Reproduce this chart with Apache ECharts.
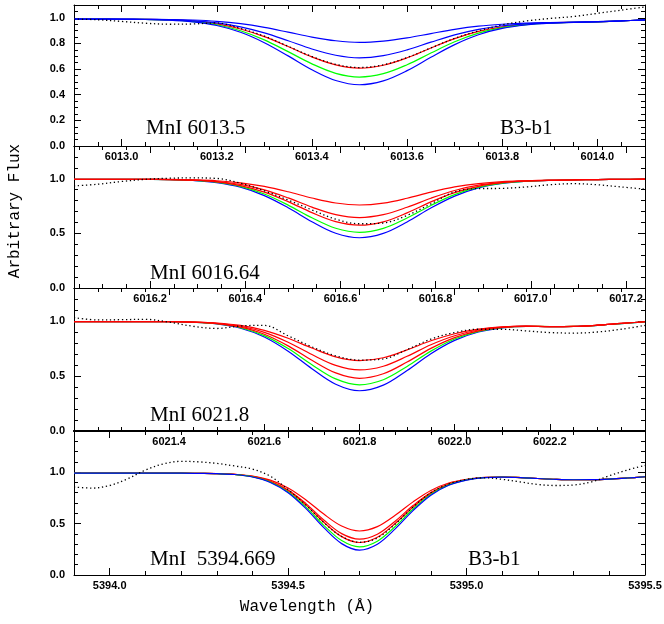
<!DOCTYPE html>
<html><head><meta charset="utf-8">
<script src="https://cdn.jsdelivr.net/npm/echarts@6/dist/echarts.min.js"></script>
<style>html,body{margin:0;padding:0;background:#fff}#c{width:664px;height:624px}</style>
</head><body><div id="c"></div>
<script>
// ---------- Panel 1 : MnI 6013.5 ----------
const wl1 = [6012.90,6012.95,6013.00,6013.05,6013.10,6013.15,6013.20,6013.25,6013.30,6013.35,6013.40,6013.45,6013.50,6013.55,6013.60,6013.65,6013.70,6013.75,6013.80,6013.85,6013.90,6013.95,6014.00,6014.05,6014.10];
const p1BlueA = [.990,.990,.990,.989,.987,.983,.973,.954,.925,.888,.850,.821,.808,.818,.843,.877,.910,.935,.950,.959,.963,.966,.970,.976,.984];
const p1BlueB = [.990,.990,.990,.988,.985,.977,.961,.929,.882,.821,.757,.708,.688,.705,.750,.810,.867,.910,.938,.953,.961,.965,.970,.976,.984];
const p1Red   = [.990,.990,.989,.988,.984,.974,.953,.913,.853,.776,.695,.633,.608,.630,.688,.765,.838,.894,.930,.950,.960,.965,.969,.976,.984];
const p1Green = [.990,.990,.989,.988,.983,.971,.946,.899,.828,.736,.641,.567,.538,.564,.634,.725,.813,.880,.923,.947,.959,.965,.969,.976,.984];
const p1BlueC = [.990,.990,.989,.987,.982,.968,.940,.887,.806,.703,.595,.511,.478,.508,.588,.692,.791,.868,.917,.944,.958,.964,.969,.976,.984];
const p1Obs   = [.990,.985,.972,.958,.950,.952,.960,.917,.857,.778,.698,.637,.612,.633,.690,.765,.840,.898,.945,.975,.995,1.010,1.035,1.060,1.085];

// ---------- Panel 2 : MnI 6016.64 ----------
const wl2 = [6016.04,6016.09,6016.14,6016.19,6016.24,6016.29,6016.34,6016.39,6016.44,6016.49,6016.54,6016.59,6016.64,6016.69,6016.74,6016.79,6016.84,6016.89,6016.94,6016.99,6017.04,6017.09,6017.14,6017.19,6017.24];
const p2Red1  = [.995,.995,.995,.995,.994,.990,.982,.963,.930,.881,.824,.778,.760,.777,.822,.878,.925,.956,.974,.982,.987,.990,.993,.995,.997];
const p2Red2  = [.995,.995,.995,.994,.993,.988,.975,.948,.898,.825,.741,.672,.645,.671,.739,.822,.893,.941,.967,.980,.986,.989,.993,.995,.997];
const p2Red3  = [.995,.995,.995,.994,.993,.987,.972,.938,.878,.791,.690,.607,.575,.606,.688,.788,.873,.931,.964,.979,.986,.989,.993,.995,.997];
const p2Green = [.995,.995,.995,.994,.992,.985,.968,.930,.860,.759,.643,.547,.510,.546,.641,.756,.855,.923,.960,.977,.985,.989,.993,.995,.997];
const p2Blue  = [.995,.995,.995,.994,.992,.984,.965,.923,.846,.735,.607,.501,.460,.500,.605,.732,.841,.916,.957,.976,.985,.989,.993,.995,.997];
const p2Obs   = [.935,.950,.975,.995,1.005,1.008,1.003,.960,.890,.805,.715,.630,.588,.595,.665,.770,.880,.910,.912,.925,.945,.955,.945,.925,.905];

// ---------- Panel 3 : MnI 6021.8 ----------
const wl3 = [6021.20,6021.25,6021.30,6021.35,6021.40,6021.45,6021.50,6021.55,6021.60,6021.65,6021.70,6021.75,6021.80,6021.85,6021.90,6021.95,6022.00,6022.05,6022.10,6022.15,6022.20,6022.25,6022.30,6022.35,6022.40];
const p3Red1  = [.995,.995,.995,.995,.994,.991,.982,.960,.915,.843,.754,.674,.640,.666,.738,.820,.884,.926,.947,.954,.949,.951,.962,.978,.993];
const p3Red2  = [.995,.995,.995,.995,.994,.990,.979,.952,.897,.807,.695,.597,.555,.589,.679,.784,.866,.918,.944,.953,.949,.951,.962,.978,.993];
const p3Red3  = [.995,.995,.995,.995,.994,.989,.977,.944,.880,.774,.643,.528,.479,.520,.627,.751,.849,.910,.942,.952,.949,.951,.962,.978,.993];
const p3Green = [.995,.995,.995,.995,.994,.989,.975,.939,.867,.749,.603,.474,.420,.466,.587,.726,.836,.905,.940,.952,.949,.951,.961,.977,.992];
const p3Blue  = [.995,.995,.995,.995,.994,.988,.973,.934,.855,.726,.566,.425,.366,.417,.550,.703,.824,.900,.938,.951,.949,.950,.961,.977,.992];
const p3Obs   = [1.030,1.010,1.012,1.015,.990,.952,.932,.955,.960,.865,.765,.683,.645,.655,.740,.835,.895,.925,.925,.910,.895,.890,.900,.925,.960];

// ---------- Panel 4 : MnI 5394.669 ----------
const wl4 = [5393.90,5393.95,5394.00,5394.05,5394.10,5394.15,5394.20,5394.25,5394.30,5394.35,5394.40,5394.45,5394.50,5394.55,5394.60,5394.65,5394.70,5394.75,5394.80,5394.85,5394.90,5394.95,5395.00,5395.05,5395.10,5395.15,5395.20,5395.25,5395.30,5395.35,5395.40,5395.45,5395.50];
const p4Red1  = [.990,.990,.990,.990,.990,.990,.990,.988,.986,.979,.961,.922,.846,.730,.592,.476,.428,.470,.580,.711,.822,.894,.931,.950,.953,.948,.938,.930,.926,.927,.933,.943,.955];
const p4Red2  = [.990,.990,.990,.990,.990,.990,.990,.988,.986,.978,.958,.912,.826,.694,.535,.402,.348,.396,.523,.675,.802,.884,.928,.948,.953,.947,.938,.930,.926,.927,.933,.943,.955];
const p4Red3  = [.990,.990,.990,.990,.990,.990,.990,.988,.985,.978,.956,.909,.818,.679,.513,.373,.316,.367,.501,.660,.794,.881,.926,.948,.953,.947,.938,.930,.926,.927,.933,.943,.955];
const p4Green = [.990,.990,.990,.990,.990,.990,.990,.988,.985,.977,.955,.904,.807,.660,.483,.335,.274,.329,.471,.641,.783,.876,.925,.947,.953,.947,.938,.930,.926,.927,.933,.943,.955];
const p4Blue  = [.990,.990,.990,.990,.990,.990,.990,.988,.985,.977,.953,.900,.800,.645,.460,.305,.242,.299,.448,.626,.776,.872,.923,.947,.952,.947,.938,.930,.926,.927,.933,.943,.955];
const p4Obs   = [.855,.845,.870,.935,1.020,1.080,1.105,1.100,1.085,1.060,1.030,.960,.830,.680,.510,.375,.318,.360,.495,.660,.800,.885,.930,.945,.930,.905,.880,.870,.875,.905,.965,1.020,1.065];

// ---------- annotations ----------
const lineLabels = ['MnI 6013.5', 'MnI 6016.64', 'MnI 6021.8', 'MnI  5394.669'];
const starLabel = 'B3-b1';
const yTitle = 'Arbitrary Flux';
const xTitle = 'Wavelength (\u00C5)';

const BLUE = '#0000ff', RED = '#ff0000', GREEN = '#00ff00', BLACK = '#000000';

// line lists are in drawing order (last drawn on top)
const panels = [
  { wl: wl1, xmin: 6012.9, xmax: 6014.1, xstep: 0.2, xminor: 4, ymax: 1.1, ystep: 0.2, yminor: 4, hideEnds: false,
    lines: [[p1Red, RED], [p1Green, GREEN], [p1BlueC, BLUE], [p1BlueB, BLUE], [p1BlueA, BLUE]], obs: p1Obs },
  { wl: wl2, xmin: 6016.04, xmax: 6017.24, xstep: 0.2, xminor: 4, ymax: 1.3, ystep: 0.5, yminor: 5, hideEnds: false,
    lines: [[p2Blue, BLUE], [p2Green, GREEN], [p2Red3, RED], [p2Red2, RED], [p2Red1, RED]], obs: p2Obs },
  { wl: wl3, xmin: 6021.2, xmax: 6022.4, xstep: 0.2, xminor: 4, ymax: 1.3, ystep: 0.5, yminor: 5, hideEnds: true,
    lines: [[p3Blue, BLUE], [p3Green, GREEN], [p3Red3, RED], [p3Red2, RED], [p3Red1, RED]], obs: p3Obs },
  { wl: wl4, xmin: 5393.9, xmax: 5395.5, xstep: 0.5, xminor: 5, ymax: 1.4, ystep: 0.5, yminor: 5, hideEnds: false,
    lines: [[p4Red1, RED], [p4Red2, RED], [p4Red3, RED], [p4Green, GREEN], [p4Blue, BLUE]], obs: p4Obs }
];

const gridBoxes = [ {top: 5, height: 141}, {top: 146, height: 142}, {top: 288, height: 143}, {top: 431, height: 144} ];
const LEFT = 74, WIDTH = 571;

function onStep(step) {
  return function (v) {
    const r = v / step;
    return Math.abs(r - Math.round(r)) < 1e-6 ? v.toFixed(1) : '';
  };
}
const labelFont = { fontFamily: 'Liberation Sans, Arial, sans-serif', fontSize: 11, fontWeight: 'bold', color: '#000' };

const grid = [], xAxis = [], yAxis = [], series = [];
panels.forEach(function (p, i) {
  grid.push({ left: LEFT, width: WIDTH, top: gridBoxes[i].top, height: gridBoxes[i].height, outerBoundsMode: 'none', containLabel: false });
  const botW = (i === 2) ? 2 : 1;
  const topW = (i === 3) ? 2 : 1;
  const xBase = { type: 'value', gridIndex: i, min: p.xmin, max: p.xmax, minInterval: p.xstep, maxInterval: p.xstep,
    splitLine: { show: false }, minorSplitLine: { show: false },
    axisTick: { show: true, inside: true, length: 7, lineStyle: { color: '#000', width: 1 } },
    minorTick: { show: true, splitNumber: p.xminor, length: 4, lineStyle: { color: '#000', width: 1 } } };
  xAxis.push(Object.assign({}, xBase, { position: 'bottom',
    axisLine: { show: true, onZero: false, lineStyle: { color: '#000', width: botW } },
    axisLabel: Object.assign({ show: true, margin: 5, formatter: onStep(p.xstep),
      showMinLabel: !p.hideEnds, showMaxLabel: !p.hideEnds, hideOverlap: false }, labelFont) }));
  xAxis.push(Object.assign({}, xBase, { position: 'top',
    axisLine: { show: true, onZero: false, lineStyle: { color: '#000', width: topW } },
    axisLabel: { show: false } }));
  const yBase = { type: 'value', gridIndex: i, min: 0, max: p.ymax, minInterval: p.ystep, maxInterval: p.ystep,
    splitLine: { show: false }, minorSplitLine: { show: false },
    axisTick: { show: true, inside: true, length: 7, lineStyle: { color: '#000', width: 1 } },
    minorTick: { show: true, splitNumber: p.yminor, length: 4, lineStyle: { color: '#000', width: 1 } } };
  yAxis.push(Object.assign({}, yBase, { position: 'left',
    axisLine: { show: true, onZero: false, lineStyle: { color: '#000', width: 1 } },
    axisLabel: Object.assign({ show: true, margin: 9, formatter: onStep(p.ystep), showMaxLabel: false }, labelFont) }));
  yAxis.push(Object.assign({}, yBase, { position: 'right',
    axisLine: { show: true, onZero: false, lineStyle: { color: '#000', width: 1 } },
    axisLabel: { show: false } }));

  p.lines.forEach(function (ln) {
    series.push({ type: 'line', xAxisIndex: 2 * i, yAxisIndex: 2 * i, symbol: 'none', smooth: 0.35,
      data: p.wl.map(function (x, j) { return [x, ln[0][j]]; }),
      lineStyle: { color: ln[1], width: 1.2 }, silent: true });
  });
  series.push({ type: 'line', xAxisIndex: 2 * i, yAxisIndex: 2 * i, symbol: 'none', smooth: 0.35,
    data: p.wl.map(function (x, j) { return [x, p.obs[j]]; }),
    lineStyle: { color: BLACK, width: 1.3, type: [1.3, 2.7] }, silent: true, z: 5 });
});

const serif = '21px "Liberation Serif", "Times New Roman", serif';
const mono = '16px "Liberation Mono", "Courier New", monospace';
const graphic = [
  { type: 'text', x: 146, y: 128, style: { text: lineLabels[0], font: serif, fill: '#000', align: 'left', verticalAlign: 'middle' } },
  { type: 'text', x: 500, y: 128, style: { text: starLabel, font: serif, fill: '#000', align: 'left', verticalAlign: 'middle' } },
  { type: 'text', x: 150, y: 273, style: { text: lineLabels[1], font: serif, fill: '#000', align: 'left', verticalAlign: 'middle' } },
  { type: 'text', x: 150, y: 415, style: { text: lineLabels[2], font: serif, fill: '#000', align: 'left', verticalAlign: 'middle' } },
  { type: 'text', x: 150, y: 559, style: { text: lineLabels[3], font: serif, fill: '#000', align: 'left', verticalAlign: 'middle' } },
  { type: 'text', x: 468, y: 559, style: { text: starLabel, font: serif, fill: '#000', align: 'left', verticalAlign: 'middle' } },
  { type: 'text', x: 15, y: 211, rotation: Math.PI / 2, style: { text: yTitle, font: mono, fill: '#000', align: 'center', verticalAlign: 'middle' } },
  { type: 'text', x: 307, y: 607, style: { text: xTitle, font: mono, fill: '#000', align: 'center', verticalAlign: 'middle' } }
];

const chart = echarts.init(document.getElementById('c'), null, { renderer: 'canvas', width: 664, height: 624 });
chart.setOption({ animation: false, backgroundColor: '#ffffff', grid: grid, xAxis: xAxis, yAxis: yAxis, series: series, graphic: graphic });
</script>
</body></html>
